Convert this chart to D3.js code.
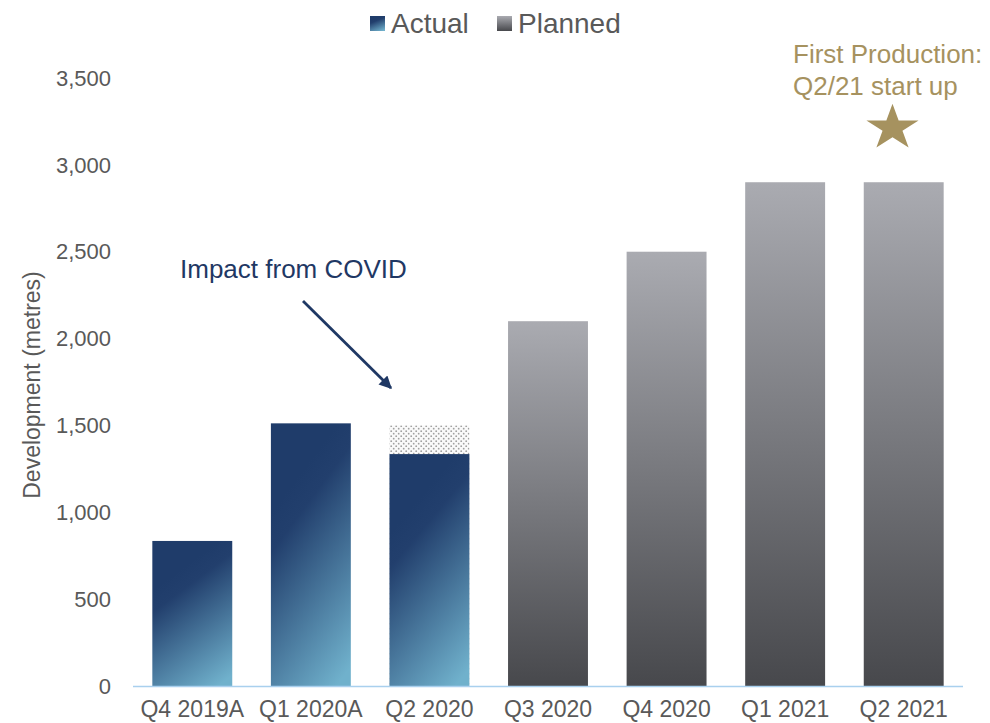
<!DOCTYPE html>
<html><head><meta charset="utf-8">
<script src="https://cdn.jsdelivr.net/npm/d3@7"></script>
<style>body{margin:0;background:#fff;}svg{display:block;font-family:"Liberation Sans",Arial,sans-serif;}</style>
</head><body><svg id="c" width="990" height="723"></svg>
<script>
const categories = ["Q4 2019A","Q1 2020A","Q2 2020","Q3 2020","Q4 2020","Q1 2021","Q2 2021"];
const actual = [835, 1512, 1335, null, null, null, null];
const planned = [null, null, null, 2100, 2500, 2900, 2900];
const covidPlanned = [null, null, 1500, null, null, null, null];
const yTicks = [0,500,1000,1500,2000,2500,3000,3500];

const svg = d3.select("#c");
const x = d3.scaleBand().domain(categories).range([133,963]).paddingInner(0.326).paddingOuter(0.163);
const y = d3.scaleLinear().domain([0,3500]).range([686,78]);

const defs = svg.append("defs");
const ga = defs.append("linearGradient").attr("id","gA").attr("x1","0.35").attr("y1","0.2").attr("x2","0.7").attr("y2","1.05");
ga.append("stop").attr("offset","0").attr("stop-color","#1f3c6a");
ga.append("stop").attr("offset","0.15").attr("stop-color","#223f6d");
ga.append("stop").attr("offset","1").attr("stop-color","#70b1cc");
const gp = defs.append("linearGradient").attr("id","gP").attr("x1","0").attr("y1","0").attr("x2","0").attr("y2","1");
gp.append("stop").attr("offset","0").attr("stop-color","#aaabb1");
gp.append("stop").attr("offset","1").attr("stop-color","#47484c");
const pat = defs.append("pattern").attr("id","dots").attr("patternUnits","userSpaceOnUse").attr("width",5).attr("height",5);
pat.append("rect").attr("width",5).attr("height",5).attr("fill","#fafafa");
pat.append("circle").attr("cx",1.2).attr("cy",1.2).attr("r",0.9).attr("fill","#a0a0a0");
pat.append("circle").attr("cx",3.7).attr("cy",3.7).attr("r",0.9).attr("fill","#a0a0a0");

// y tick labels
svg.append("g").selectAll("text").data(yTicks).join("text")
  .attr("x",111).attr("y",d=>y(d)).attr("dy","0.35em").attr("text-anchor","end")
  .attr("font-size",22).attr("fill","#595959").text(d=>d3.format(",")(d));

// y title
svg.append("text").attr("transform","translate(40,385) rotate(-90)").attr("text-anchor","middle")
  .attr("font-size",23).attr("fill","#595959").text("Development (metres)");

// covid dotted
svg.append("g").selectAll("rect").data(categories.map((c,i)=>({c,v:covidPlanned[i]})).filter(d=>d.v!=null)).join("rect")
  .attr("x",d=>x(d.c)).attr("width",x.bandwidth()).attr("y",d=>y(d.v)).attr("height",d=>y(0)-y(d.v)).attr("fill","url(#dots)");

// actual bars
svg.append("g").selectAll("rect").data(categories.map((c,i)=>({c,v:actual[i]})).filter(d=>d.v!=null)).join("rect")
  .attr("x",d=>x(d.c)).attr("width",x.bandwidth()).attr("y",d=>y(d.v)).attr("height",d=>y(0)-y(d.v)).attr("fill","url(#gA)");
// planned bars
svg.append("g").selectAll("rect").data(categories.map((c,i)=>({c,v:planned[i]})).filter(d=>d.v!=null)).join("rect")
  .attr("x",d=>x(d.c)).attr("width",x.bandwidth()).attr("y",d=>y(d.v)).attr("height",d=>y(0)-y(d.v)).attr("fill","url(#gP)");

// baseline
svg.append("line").attr("x1",133).attr("x2",963).attr("y1",y(0)+0.5).attr("y2",y(0)+0.5).attr("stroke","#a9d0ee").attr("stroke-width",1.5);

// x labels
svg.append("g").selectAll("text").data(categories).join("text")
  .attr("x",d=>x(d)+x.bandwidth()/2).attr("y",717).attr("text-anchor","middle")
  .attr("font-size",23).attr("fill","#595959").text(d=>d);

// legend
const leg = [{n:"Actual",f:"url(#gA)",x:370},{n:"Planned",f:"url(#gP)",x:497}];
const lg = svg.append("g").selectAll("g").data(leg).join("g");
lg.append("rect").attr("x",d=>d.x).attr("y",16).attr("width",15).attr("height",15).attr("fill",d=>d.f);
lg.append("text").attr("x",d=>d.x+21).attr("y",33).attr("font-size",28).attr("fill","#595959").text(d=>d.n);

// covid annotation
svg.append("text").attr("x",180).attr("y",278).attr("font-size",26).attr("fill","#1f3864").text("Impact from COVID");
defs.append("marker").attr("id","arr").attr("viewBox","0 0 10 10").attr("refX",9).attr("refY",5)
  .attr("markerWidth",5.5).attr("markerHeight",4.5).attr("orient","auto")
  .append("path").attr("d","M0,0 L10,5 L0,10 z").attr("fill","#1f3864");
svg.append("line").attr("x1",303).attr("y1",301).attr("x2",391).attr("y2",388)
  .attr("stroke","#1f3864").attr("stroke-width",2.8).attr("marker-end","url(#arr)");

// first production
const gold = "#a6925f";
svg.append("text").attr("x",793).attr("y",63).attr("font-size",26).attr("fill",gold).text("First Production:");
svg.append("text").attr("x",793).attr("y",95).attr("font-size",26).attr("fill",gold).text("Q2/21 start up");
svg.append("path").attr("d",d3.symbol().type(d3.symbolStar).size(660)()).attr("transform","translate(892.5,128) scale(1.13,1)").attr("fill",gold);
</script></body></html>
